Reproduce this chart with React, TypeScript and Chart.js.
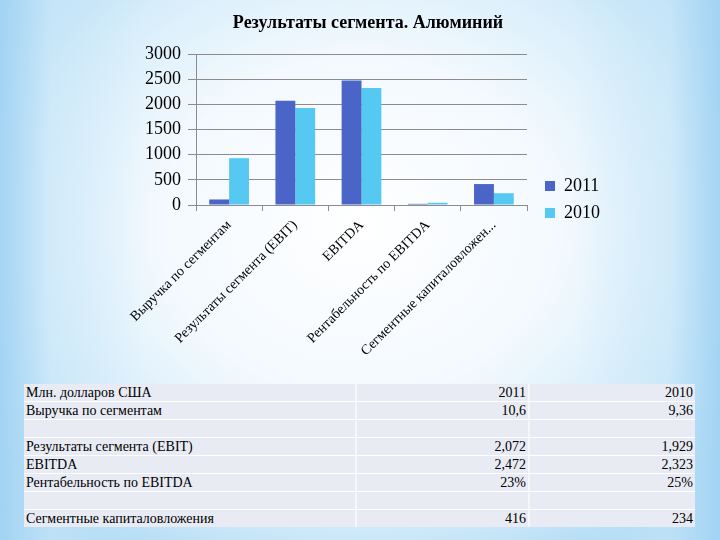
import React, { useEffect, useRef } from "react";
import { Chart, registerables } from "chart.js";

Chart.register(...registerables);

const chartTitle = "Результаты сегмента. Алюминий";
const categories = [
  "Выручка по сегментам",
  "Результаты сегмента (EBIT)",
  "EBITDA",
  "Рентабельность по EBITDA",
  "Сегментные капиталовложения",
];
const seriesNames = ["2011", "2010"];
const values2011 = [110, 2072, 2472, 23, 416];
const values2010 = [930, 1929, 2323, 45, 234];
const yMin = 0;
const yMax = 3000;
const yStep = 500;

const tableHeader = ["Млн. долларов США", "2011", "2010"];
const tableLabels = [
  "Выручка по сегментам",
  "",
  "Результаты сегмента (EBIT)",
  "EBITDA",
  "Рентабельность по EBITDA",
  "",
  "Сегментные капиталовложения",
];
const table2011 = ["10,6", "", "2,072", "2,472", "23%", "", "416"];
const table2010 = ["9,36", "", "1,929", "2,323", "25%", "", "234"];

const SERIF = '"Liberation Serif", "DejaVu Serif", "Noto Serif", serif';
const COLOR_2011 = "#4A64C7";
const COLOR_2010 = "#55C9F2";
const AXIS_GRAY = "#8c8c8c";

function ChartCanvas() {
  const ref = useRef<HTMLCanvasElement | null>(null);
  useEffect(() => {
    if (!ref.current) return;
    const chart = new Chart(ref.current, {
      type: "bar",
      data: {
        labels: categories,
        datasets: [
          {
            label: seriesNames[0],
            data: values2011,
            backgroundColor: COLOR_2011,
            borderWidth: 0,
            categoryPercentage: 0.6,
            barPercentage: 1.0,
          },
          {
            label: seriesNames[1],
            data: values2010,
            backgroundColor: COLOR_2010,
            borderWidth: 0,
            categoryPercentage: 0.6,
            barPercentage: 1.0,
          },
        ],
      },
      options: {
        animation: false,
        responsive: false,
        maintainAspectRatio: false,
        layout: { padding: { left: 126, right: 110, top: 0, bottom: 1 } },
        plugins: {
          title: {
            display: true,
            text: chartTitle,
            color: "#000",
            font: { family: SERIF, size: 18, weight: "bold" },
            padding: { top: 13, bottom: 19.4 },
          },
          legend: {
            position: "right",
            align: "center",
            labels: {
              boxWidth: 10,
              boxHeight: 10,
              padding: 9,
              color: "#000",
              font: { family: SERIF, size: 18 },
            },
          },
          tooltip: { enabled: false },
        },
        scales: {
          x: {
            grid: { drawOnChartArea: false, color: AXIS_GRAY, tickLength: 6 },
            border: { color: AXIS_GRAY },
            ticks: {
              color: "#000",
              font: { family: SERIF, size: 14 },
              minRotation: 45,
              maxRotation: 45,
              autoSkip: false,
              padding: 6,
              callback: function (this: any, v: any) {
                const s = this.getLabelForValue(v) as string;
                return s.length > 26 ? s.slice(0, 25) + "..." : s;
              },
            },
            afterFit: (s: any) => {
              s.height = 194;
            },
          },
          y: {
            min: yMin,
            max: yMax,
            ticks: {
              stepSize: yStep,
              color: "#000",
              font: { family: SERIF, size: 18 },
              padding: 7,
              callback: (v: any) => String(v),
            },
            grid: { color: AXIS_GRAY, tickLength: 8 },
            border: { color: AXIS_GRAY },
            afterFit: (s: any) => {
              s.width = 70;
            },
          },
          yR: {
            type: "linear",
            position: "right",
            display: true,
            grid: { display: false },
            border: { display: false },
            ticks: { display: false },
            afterFit: (s: any) => {
              s.width = 9;
            },
          },
        },
      } as any,
    });
    return () => chart.destroy();
  }, []);
  return (
    <canvas
      ref={ref}
      width={720}
      height={400}
      style={{ position: "absolute", left: 0, top: 0, width: 720, height: 400, display: "block" }}
    />
  );
}

function DataTable() {
  const rows = [
    [tableHeader[0], tableHeader[1], tableHeader[2]],
    ...tableLabels.map((l, i) => [l, table2011[i], table2010[i]]),
  ];
  const cellBase: React.CSSProperties = {
    height: 17,
    lineHeight: "17px",
    boxSizing: "border-box",
    whiteSpace: "nowrap",
    overflow: "hidden",
  };
  return (
    <div
      style={{
        position: "absolute",
        left: 24,
        top: 384,
        width: 671,
        fontFamily: SERIF,
        fontSize: 14,
        color: "#000",
        background: "#E8EBF4",
      }}
    >
      {rows.map((r, i) => (
        <div
          key={i}
          style={{
            display: "flex",
            borderTop: i === 0 ? "none" : "1px solid #ffffff",
          }}
        >
          <div style={{ ...cellBase, width: 331, paddingLeft: 2 }}>{r[0]}</div>
          <div
            style={{
              ...cellBase,
              width: 173,
              textAlign: "right",
              paddingRight: 2,
              borderLeft: "2px solid rgba(255,255,255,0.6)",
            }}
          >
            {r[1]}
          </div>
          <div
            style={{
              ...cellBase,
              width: 167,
              textAlign: "right",
              paddingRight: 2,
              borderLeft: "2px solid rgba(255,255,255,0.6)",
            }}
          >
            {r[2]}
          </div>
        </div>
      ))}
    </div>
  );
}

export default function App() {
  return (
    <div
      style={{
        position: "fixed",
        left: 0,
        top: 0,
        width: 720,
        height: 540,
        overflow: "hidden",
        background:
          "linear-gradient(to right, rgba(160,210,243,0.9) 0%, rgba(200,230,249,0.5) 7%, rgba(255,255,255,0) 20%, rgba(255,255,255,0) 80%, rgba(200,230,249,0.5) 93%, rgba(160,210,243,0.9) 100%), radial-gradient(ellipse 62% 70% at 50% 42%, #ffffff 0%, #f3f9fe 45%, #d6edfa 75%, #b3dcf4 100%)",
      }}
    >
      <ChartCanvas />
      <DataTable />
    </div>
  );
}
